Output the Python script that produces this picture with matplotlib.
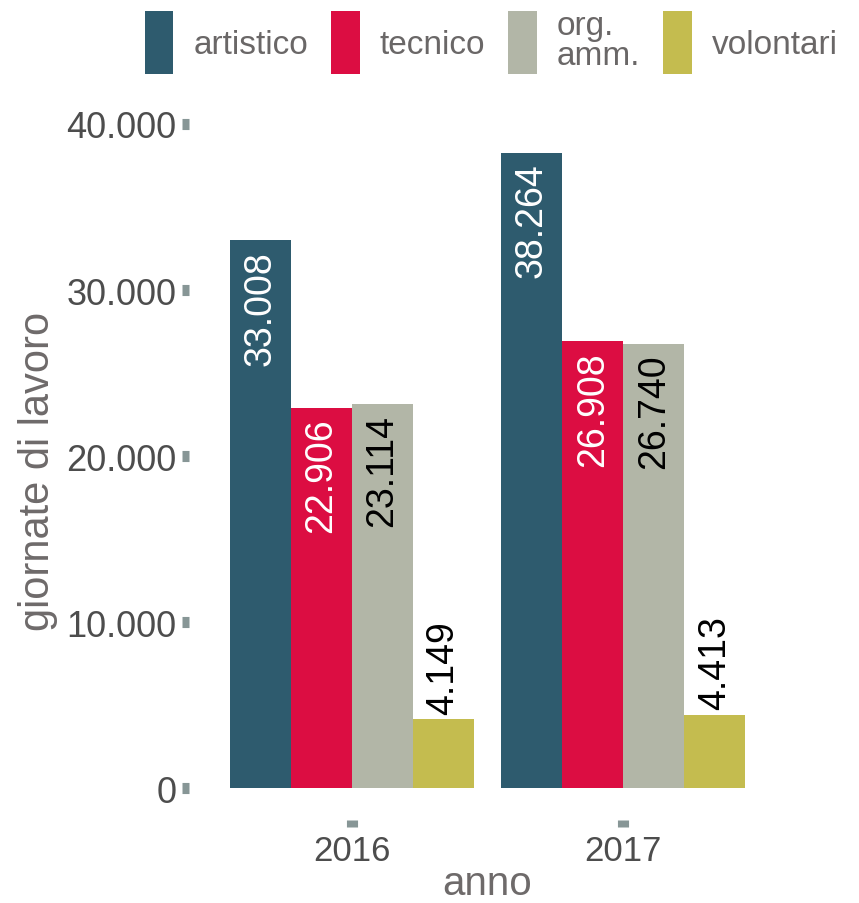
import numpy as np
import matplotlib
matplotlib.use("Agg")
import matplotlib.pyplot as plt
from matplotlib.patches import Patch
from matplotlib.ticker import FuncFormatter

plt.rcParams['font.family'] = ['Liberation Sans', 'DejaVu Sans']

# data
years = ["2016", "2017"]
categories = ["artistico", "tecnico", "org.\namm.", "volontari"]
artistico = [33008, 38264]
tecnico = [22906, 26908]
org_amm = [23114, 26740]
volontari = [4149, 4413]

series = [artistico, tecnico, org_amm, volontari]
colors = ["#2e5b6e", "#dc0d42", "#b2b6a7", "#c4bc4f"]
label_colors = ["white", "white", "black", "black"]


def fmt_it(v, pos=None):
    return "{:,.0f}".format(v).replace(",", ".")


fig = plt.figure(figsize=(8.59, 9.04), dpi=100)
ax = fig.add_axes([0.220, 0.092, 0.695, 0.773])

x = np.arange(len(years))
w = 0.225
offsets = (np.arange(len(categories)) - 1.5) * w

for vals, off, col, lcol in zip(series, offsets, colors, label_colors):
    ax.bar(x + off, vals, width=w, color=col, edgecolor="none")
    for xi, v in zip(x + off, vals):
        if v > 10000:
            ax.annotate(fmt_it(v), (xi, v), xytext=(0, -7), textcoords="offset points",
                        rotation=90, ha="center", va="top", fontsize=27, color=lcol)
        else:
            ax.annotate(fmt_it(v), (xi, v), xytext=(0, 4), textcoords="offset points",
                        rotation=90, ha="center", va="bottom", fontsize=27, color=lcol)

ax.set_xlim(-0.6, 1.6)
top = max(max(s) for s in series)
ax.set_ylim(-0.05 * top, top * 1.05)
ax.set_xticks(x)
ax.set_xticklabels(years)
ax.set_yticks([0, 10000, 20000, 30000, 40000])
ax.yaxis.set_major_formatter(FuncFormatter(fmt_it))

for s in ax.spines.values():
    s.set_visible(False)

ax.tick_params(axis="both", colors="#879696", labelcolor="#4d4d4d",
               length=5, width=8)
ax.tick_params(axis="y", pad=4, labelsize=26)
ax.tick_params(axis="x", pad=5, labelsize=25)

ax.set_xlabel("anno", fontsize=29, color="#6e6a6a", labelpad=-2)
ax.set_ylabel("giornate di lavoro", fontsize=30, color="#6e6a6a", labelpad=6)

handles = [Patch(facecolor=c, edgecolor="none", label=l) for c, l in zip(colors, categories)]
leg = fig.legend(handles=handles, loc="center", bbox_to_anchor=(0.572, 0.952), ncol=4,
                 frameon=False, fontsize=24, handlelength=0.85, handleheight=2.55,
                 handletextpad=0.6, columnspacing=0.7, labelspacing=0.2)
for t in leg.get_texts():
    t.set_color("#6a6767")
    t.set_linespacing(0.95)

fig.savefig("out.png", dpi=100)
